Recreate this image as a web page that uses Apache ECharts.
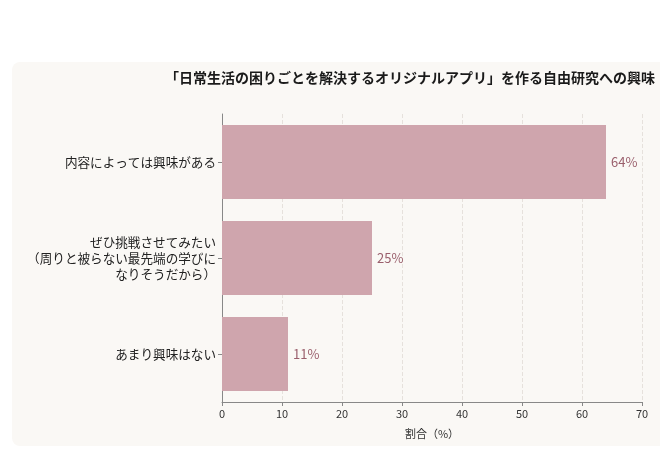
<!DOCTYPE html>
<html>
<head>
<meta charset="utf-8">
<script src="https://cdn.jsdelivr.net/npm/echarts@6/dist/echarts.min.js"></script>
<style>
	html, body { margin: 0; padding: 0; background: #ffffff; }
	#card { position: absolute; left: 12px; top: 62px; width: 660px; height: 384px; background: #faf8f5; border-radius: 8px; }
	#chart { position: absolute; left: 0; top: 0; width: 660px; height: 451px; }
</style>
</head>
<body>
<div id="card"></div>
<div id="chart"></div>
<script>
const categories = [
	"内容によっては興味がある",
	"ぜひ挑戦させてみたい\n（周りと被らない最先端の学びに\nなりそうだから）",
	"あまり興味はない"
]
const shares = [64, 25, 11]
const xTicks = [0, 10, 20, 30, 40, 50, 60, 70]

const font = "'Noto Sans CJK JP', 'Noto Sans', sans-serif"

const chart = echarts.init(document.querySelector("#chart"))
chart.setOption({
	backgroundColor: "transparent",
	textStyle: { fontFamily: font },
	title: {
		text: "「日常生活の困りごとを解決するオリジナルアプリ」を作る自由研究への興味",
		right: 0,
		top: 66,
		textStyle: { fontSize: 14, fontWeight: "bold", color: "#1a1a1a", fontFamily: font }
	},
	grid: {
		left: 222,
		right: 18,
		top: 114,
		bottom: 49
	},
	xAxis: {
		type: "value",
		min: xTicks[0],
		max: xTicks[xTicks.length - 1],
		interval: 10,
		name: "割合（%）",
		nameLocation: "middle",
		nameGap: 26,
		nameTextStyle: { fontSize: 11, color: "#333" },
		axisLine: { show: true, lineStyle: { color: "#888" } },
		axisTick: { show: true, length: 4, lineStyle: { color: "#888" } },
		axisLabel: { fontSize: 11, color: "#333", margin: 6 },
		splitLine: { show: true, lineStyle: { type: "dashed", color: "#e6e1dc" } }
	},
	yAxis: {
		type: "category",
		inverse: true,
		data: categories,
		axisLine: { show: true, lineStyle: { color: "#888" } },
		axisTick: { show: true, alignWithLabel: true, length: 4, lineStyle: { color: "#888" } },
		axisLabel: { fontSize: 12.6, color: "#222", margin: 6, lineHeight: 16, align: "right" }
	},
	series: [
		{
			type: "bar",
			data: shares,
			barWidth: "77%",
			itemStyle: { color: "#cfa5ad" },
			label: {
				show: true,
				position: "right",
				distance: 5,
				formatter: "{c}%",
				fontSize: 13,
				color: "#9a5f6c"
			}
		}
	]
})
</script>
</body>
</html>
